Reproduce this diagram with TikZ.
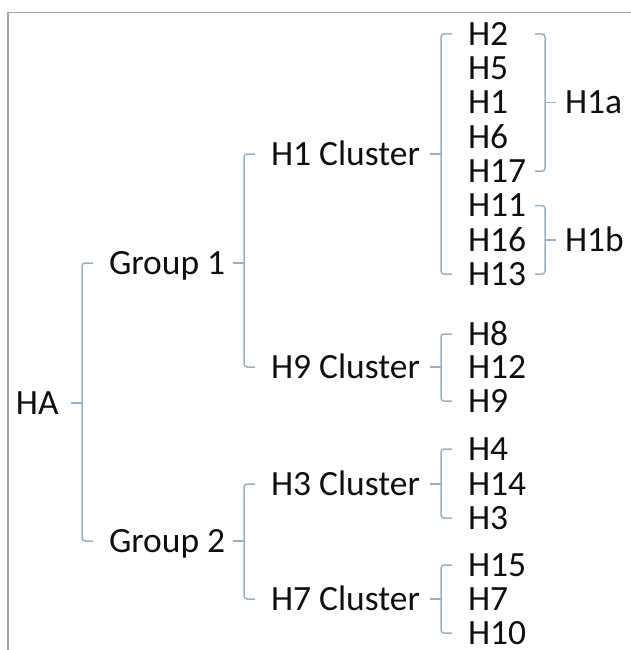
\documentclass[tikz,border=0pt]{standalone}
\usepackage{fontspec}
\setmainfont{Carlito}
\definecolor{brk}{RGB}{149,176,204}
\definecolor{frm}{RGB}{165,165,165}
\definecolor{txt}{RGB}{15,15,15}
\tikzset{
  lbl/.style={anchor=west, inner sep=0pt, outer sep=0pt, text height=22.5pt, text depth=0pt,
    font=\fontsize{35.5}{40}\selectfont, text=txt},
  br/.style={draw=brk, line width=1.5pt, rounded corners=3pt},
  frame/.style={draw=frm, line width=1.5pt},
}
\newcommand\leftbr[3]{%
  \draw[br] ([xshift=-16pt]#2.west) -- ([xshift=-27pt]#2.west) -- ([xshift=-27pt]#3.west) -- ([xshift=-16pt]#3.west);
  \draw[br] ([xshift=-38pt]#2.west |- #1.west) -- ([xshift=-27pt]#2.west |- #1.west);
}
\newcommand\rightbr[3]{%
  \draw[br] ([xshift=-30pt]#2.west -| #1.west) -- ([xshift=-20pt]#2.west -| #1.west) -- ([xshift=-20pt]#3.west -| #1.west) -- ([xshift=-30pt]#3.west -| #1.west);
  \draw[br] ([xshift=-20pt]#1.west) -- ([xshift=-9pt]#1.west);
}
\begin{document}
\begin{tikzpicture}[x=1pt,y=-1pt]
\useasboundingbox (0,0) rectangle (631,650);
\draw[frame] (8,651) -- (8,12.5) -- (632,12.5);
% labels
\node[lbl] (HA) at (16,403) {HA};
\node[lbl] (G1) at (109,263) {Group 1};
\node[lbl] (G2) at (109,541) {Group 2};
\node[lbl] (C1) at (271,154) {H1 Cluster};
\node[lbl] (C9) at (271,367) {H9 Cluster};
\node[lbl] (C3) at (271,484) {H3 Cluster};
\node[lbl] (C7) at (271,599) {H7 Cluster};
% leaves
\node[lbl] (L2)  at (468,34)    {H2};
\node[lbl] (L5)  at (468,68.3)  {H5};
\node[lbl] (L1)  at (468,102.6) {H1};
\node[lbl] (L6)  at (468,136.9) {H6};
\node[lbl] (L17) at (468,171.2) {H17};
\node[lbl] (L11) at (468,205.5) {H11};
\node[lbl] (L16) at (468,239.8) {H16};
\node[lbl] (L13) at (468,274.1) {H13};
\node[lbl] (L8)  at (468,334)   {H8};
\node[lbl] (L12) at (468,367)   {H12};
\node[lbl] (L9)  at (468,401)   {H9};
\node[lbl] (L4)  at (468,449)   {H4};
\node[lbl] (L14) at (468,484)   {H14};
\node[lbl] (L3)  at (468,518)   {H3};
\node[lbl] (L15) at (468,565)   {H15};
\node[lbl] (L7)  at (468,599)   {H7};
\node[lbl] (L10) at (468,633)   {H10};
\node[lbl] (Ha)  at (565,102.6) {H1a};
\node[lbl] (Hb)  at (565,239.8) {H1b};
% brackets
\leftbr{HA}{G1}{G2}
\leftbr{G1}{C1}{C9}
\leftbr{G2}{C3}{C7}
\leftbr{C1}{L2}{L13}
\leftbr{C9}{L8}{L9}
\leftbr{C3}{L4}{L3}
\leftbr{C7}{L15}{L10}
\rightbr{Ha}{L2}{L17}
\rightbr{Hb}{L11}{L13}
\end{tikzpicture}
\end{document}
